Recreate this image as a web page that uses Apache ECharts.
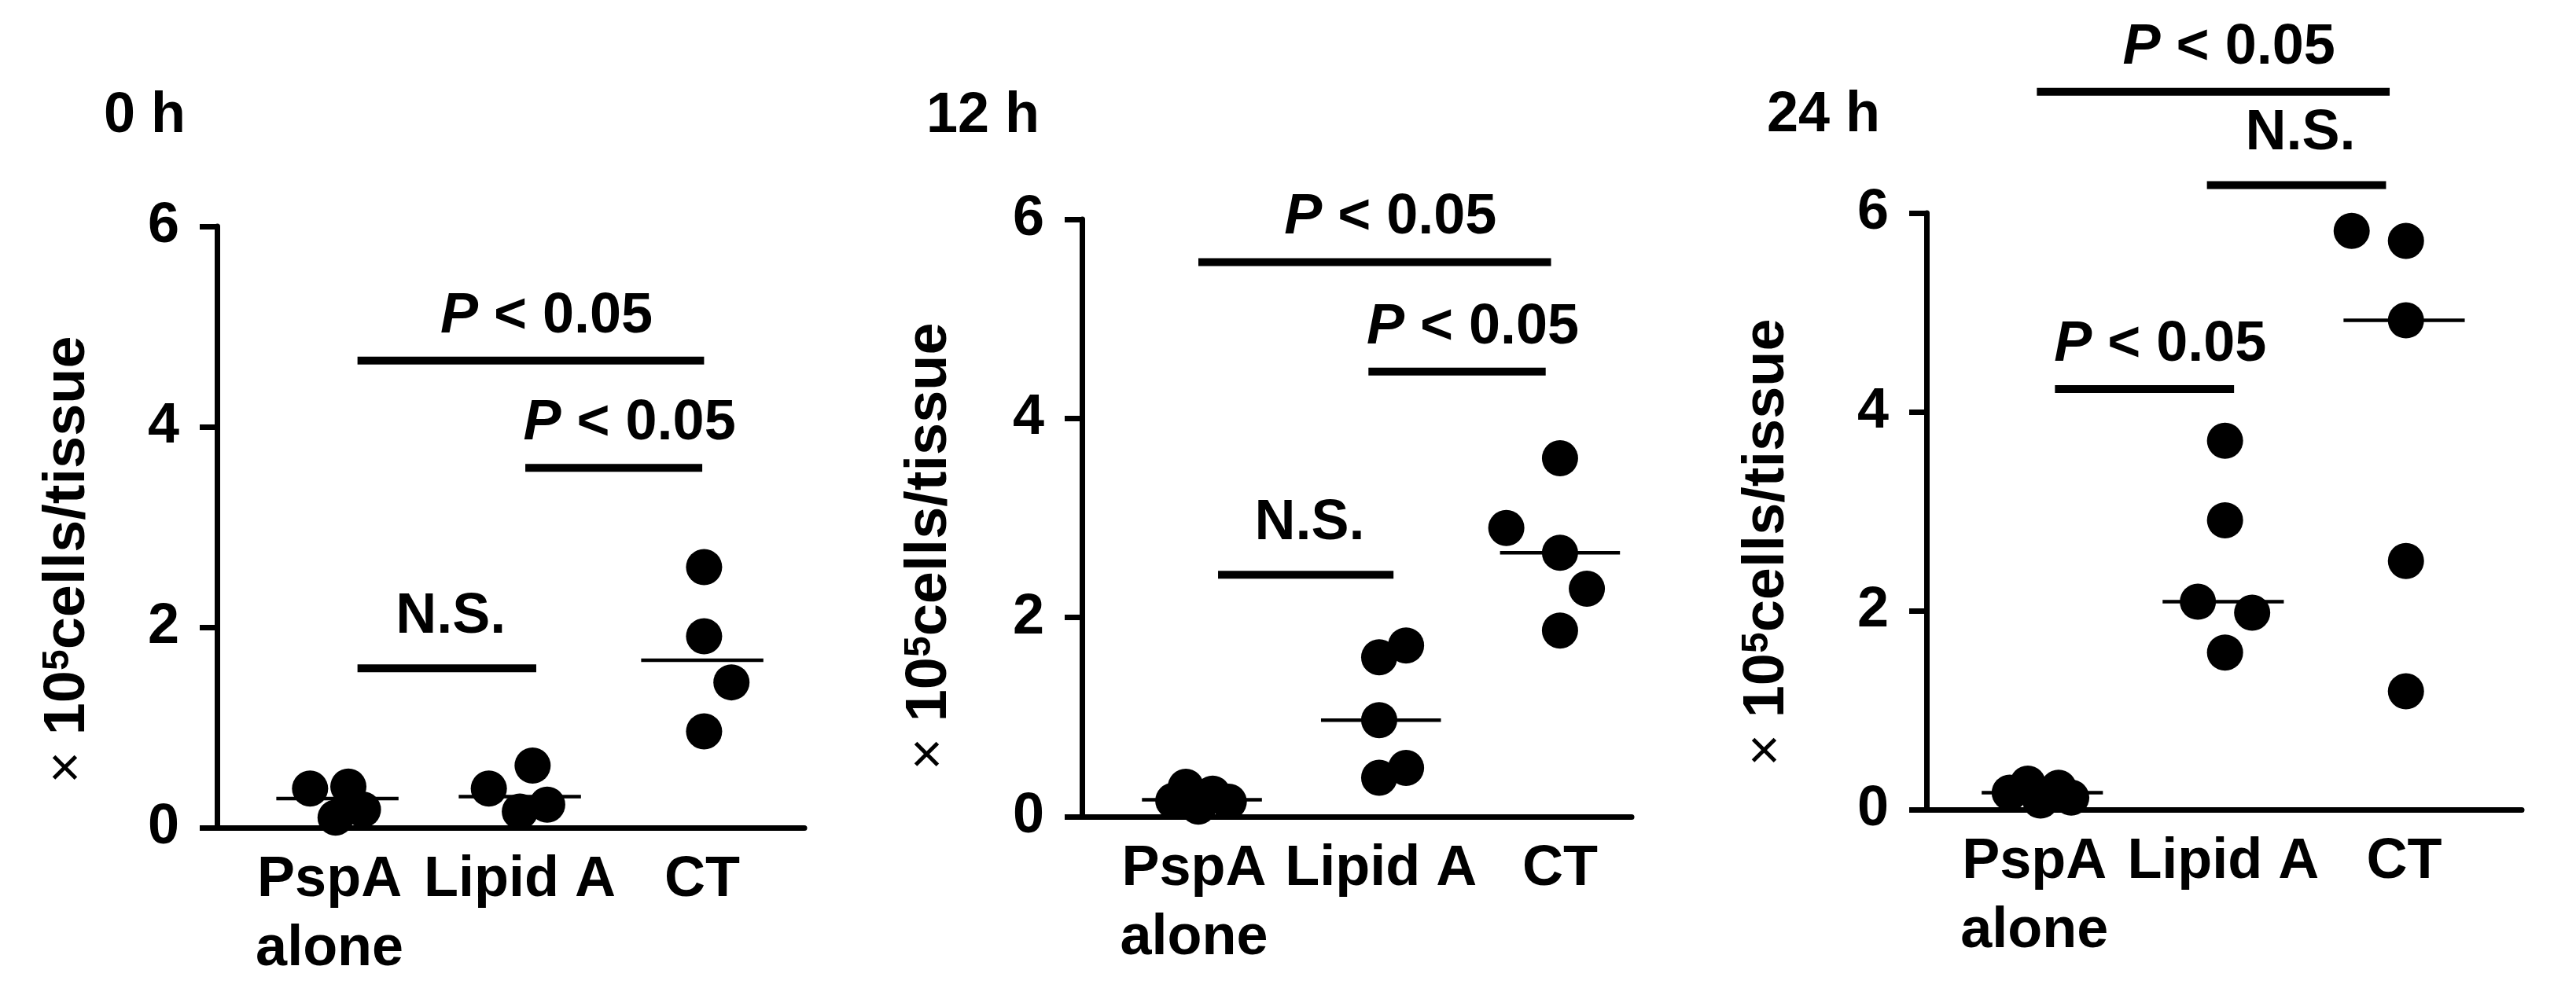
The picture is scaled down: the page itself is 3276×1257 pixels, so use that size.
<!DOCTYPE html>
<html>
<head>
<meta charset="utf-8">
<title>cells/tissue after immunisation</title>
<script src="https://cdn.jsdelivr.net/npm/echarts@6/dist/echarts.min.js"></script>
<style>
  html, body { margin: 0; padding: 0; background: #fff; }
  #chart { width: 3276px; height: 1257px; }
</style>
</head>
<body>
<div id="chart"></div>
<script>
// groups along x (centred at 1, 2, 3), y ticks
const groups = ['PspA alone', 'Lipid A', 'CT']
const yTicks = [0, 2, 4, 6]

// 0 h  (x = group position incl. jitter, y = x10^5 cells/tissue)
const h0PspaX = [0.85, 1.06, 1.14, 0.99]
const h0PspaY = [0.39, 0.41, 0.18, 0.10]
const h0LipidX = [1.83, 2.07, 2.15, 2.0]
const h0LipidY = [0.39, 0.62, 0.23, 0.16]
const h0CtX = [3.01, 3.01, 3.16, 3.01]
const h0CtY = [2.60, 1.91, 1.45, 0.96]
const h0Median = [0.29, 0.31, 1.67]
// [from, to, level, label]
const h0Sig = [[1.11, 3.01, 4.66, 'P'], [2.03, 3.0, 3.59, 'P'], [1.11, 2.09, 1.59, 'NS']]

// 12 h
const h12PspaX = [0.91, 1.06, 1.15, 0.84, 0.98]
const h12PspaY = [0.30, 0.23, 0.15, 0.16, 0.10]
const h12LipidX = [1.99, 2.14, 1.99, 2.14, 1.99]
const h12LipidY = [1.60, 1.72, 0.97, 0.49, 0.39]
const h12CtX = [3.0, 2.70, 3.0, 3.15, 3.0]
const h12CtY = [3.60, 2.90, 2.65, 2.29, 1.87]
const h12Median = [0.17, 0.97, 2.65]
const h12Sig = [[0.98, 2.95, 5.57, 'P'], [1.93, 2.92, 4.47, 'P'], [1.09, 2.07, 2.43, 'NS']]

// 24 h
const h24PspaX = [0.92, 1.09, 0.82, 1.16, 0.99]
const h24PspaY = [0.26, 0.22, 0.17, 0.12, 0.09]
const h24LipidX = [2.01, 2.01, 1.86, 2.16, 2.01]
const h24LipidY = [3.71, 2.91, 2.09, 1.98, 1.58]
const h24CtX = [2.71, 3.01, 3.01, 3.01, 3.01]
const h24CtY = [5.82, 5.72, 4.92, 2.50, 1.19]
const h24Median = [0.17, 2.09, 4.92]
const h24Sig = [[0.97, 2.92, 7.22, 'P'], [1.91, 2.90, 6.28, 'NS'], [1.07, 2.06, 4.23, 'P']]

const FONT = '"Liberation Sans", Arial, Helvetica, sans-serif'
const MEDIAN_HALF = 0.335

const panels = [
  { title: '0 h', pts: [[h0PspaX, h0PspaY], [h0LipidX, h0LipidY], [h0CtX, h0CtY]], median: h0Median, sig: h0Sig,
    grid: { left: 276, top: 288, width: 747, height: 765 }, xMin: 0.34, xMax: 3.56,
    titleAt: [132, 148], nameAt: [87, 712] },
  { title: '12 h', pts: [[h12PspaX, h12PspaY], [h12LipidX, h12LipidY], [h12CtX, h12CtY]], median: h12Median, sig: h12Sig,
    grid: { left: 1376, top: 279, width: 699, height: 760 }, xMin: 0.33, xMax: 3.40,
    titleAt: [1178, 148], nameAt: [1183, 695] },
  { title: '24 h', pts: [[h24PspaX, h24PspaY], [h24LipidX, h24LipidY], [h24CtX, h24CtY]], median: h24Median, sig: h24Sig,
    grid: { left: 2450, top: 271, width: 757, height: 759 }, xMin: 0.36, xMax: 3.65,
    titleAt: [2247, 147], nameAt: [2248, 690] },
]

const bold = (size, extra) => Object.assign({ fontSize: size, fontFamily: FONT, fontWeight: 'bold', fontStyle: 'normal' }, extra || {})

const grids = [], xAxes = [], yAxes = [], series = [], graphics = []

panels.forEach((p, i) => {
  grids.push(p.grid)

  xAxes.push({
    type: 'value', gridIndex: i, min: p.xMin, max: p.xMax,
    axisLine: { onZero: false, lineStyle: { color: '#000', width: 7 } },
    axisTick: { show: false },
    splitLine: { show: false },
    axisLabel: {
      customValues: [1, 2, 3],
      showMinLabel: true, showMaxLabel: true, hideOverlap: false,
      margin: 23,
      color: '#000',
      lineHeight: 88,
      ...bold(72),
      // a trailing space nudges the two-line label left a little
      formatter: v => {
        const name = groups[Math.round(v) - 1]
        if (name === 'PspA alone') return 'PspA\u00a0\nalone\u00a0'
        return name
      },
    },
  })

  yAxes.push({
    type: 'value', gridIndex: i, min: yTicks[0], max: yTicks[yTicks.length - 1], interval: 2,
    axisLine: { show: true, onZero: false, lineStyle: { color: '#000', width: 7 } },
    axisTick: { show: true, length: 22, lineStyle: { color: '#000', width: 7 } },
    splitLine: { show: false },
    axisLabel: { margin: 48, color: '#000', ...bold(72) },
  })

  p.pts.forEach(([xs, ys]) => {
    series.push({
      type: 'scatter', xAxisIndex: i, yAxisIndex: i,
      data: xs.map((x, k) => [x, ys[k]]),
      symbol: 'circle', symbolSize: 46,
      itemStyle: { color: '#000', opacity: 1 },
      silent: true, z: 4,
    })
  })

  // median bars
  series.push({
    type: 'custom', xAxisIndex: i, yAxisIndex: i,
    data: p.median.map((m, k) => [k + 1, m]),
    silent: true, z: 3,
    renderItem: (params, api) => {
      const a = api.coord([api.value(0) - MEDIAN_HALF, api.value(1)])
      const b = api.coord([api.value(0) + MEDIAN_HALF, api.value(1)])
      return { type: 'line', shape: { x1: a[0], y1: a[1], x2: b[0], y2: b[1] }, style: { stroke: '#000', lineWidth: 4.5 } }
    },
  })

  // significance bars
  series.push({
    type: 'custom', xAxisIndex: i, yAxisIndex: i,
    data: p.sig.map(s => [s[0], s[1], s[2]]),
    encode: { x: [0, 1], y: 2 },
    silent: true, clip: false, z: 5,
    renderItem: (params, api) => {
      const a = api.coord([api.value(0), api.value(2)])
      const b = api.coord([api.value(1), api.value(2)])
      const isP = p.sig[params.dataIndex][3] === 'P'
      const cx = (a[0] + b[0]) / 2 + (isP ? 20 : 5)
      const gap = isP ? 31 : 40
      return {
        type: 'group',
        children: [
          { type: 'line', shape: { x1: a[0], y1: a[1], x2: b[0], y2: b[1] }, style: { stroke: '#000', lineWidth: 10 } },
          { type: 'text', x: cx, y: a[1] - gap - 25,
            style: Object.assign(bold(72), {
              text: isP ? '{i|P} < 0.05' : 'N.S.',
              fill: '#000', align: 'center', verticalAlign: 'middle',
              rich: { i: bold(72, { fontStyle: 'italic', fill: '#000' }) },
            }) },
        ],
      }
    },
  })

  graphics.push({
    type: 'text', x: p.titleAt[0], y: p.titleAt[1], silent: true,
    style: Object.assign(bold(72), { text: p.title, fill: '#000', align: 'left', verticalAlign: 'middle' }),
  })
  graphics.push({
    type: 'text', x: p.nameAt[0], y: p.nameAt[1], rotation: Math.PI / 2, silent: true,
    style: Object.assign(bold(74), {
      text: '{m|×} {n|10}{s|5}{n|cells/tissue}',
      fill: '#000', align: 'center', verticalAlign: 'middle',
      rich: {
        m: { fontSize: 70, fontFamily: FONT, fontWeight: 'normal', fill: '#000', lineHeight: 74 },
        n: bold(74, { fill: '#000', lineHeight: 74 }),
        s: bold(48, { fill: '#000', verticalAlign: 'top', lineHeight: 48 }),
      },
    }),
  })
})

const chart = echarts.init(document.getElementById('chart'), null, { renderer: 'canvas' })
chart.setOption({
  backgroundColor: '#fff',
  animation: false,
  grid: grids,
  xAxis: xAxes,
  yAxis: yAxes,
  series: series,
  graphic: graphics,
})
</script>
</body>
</html>
